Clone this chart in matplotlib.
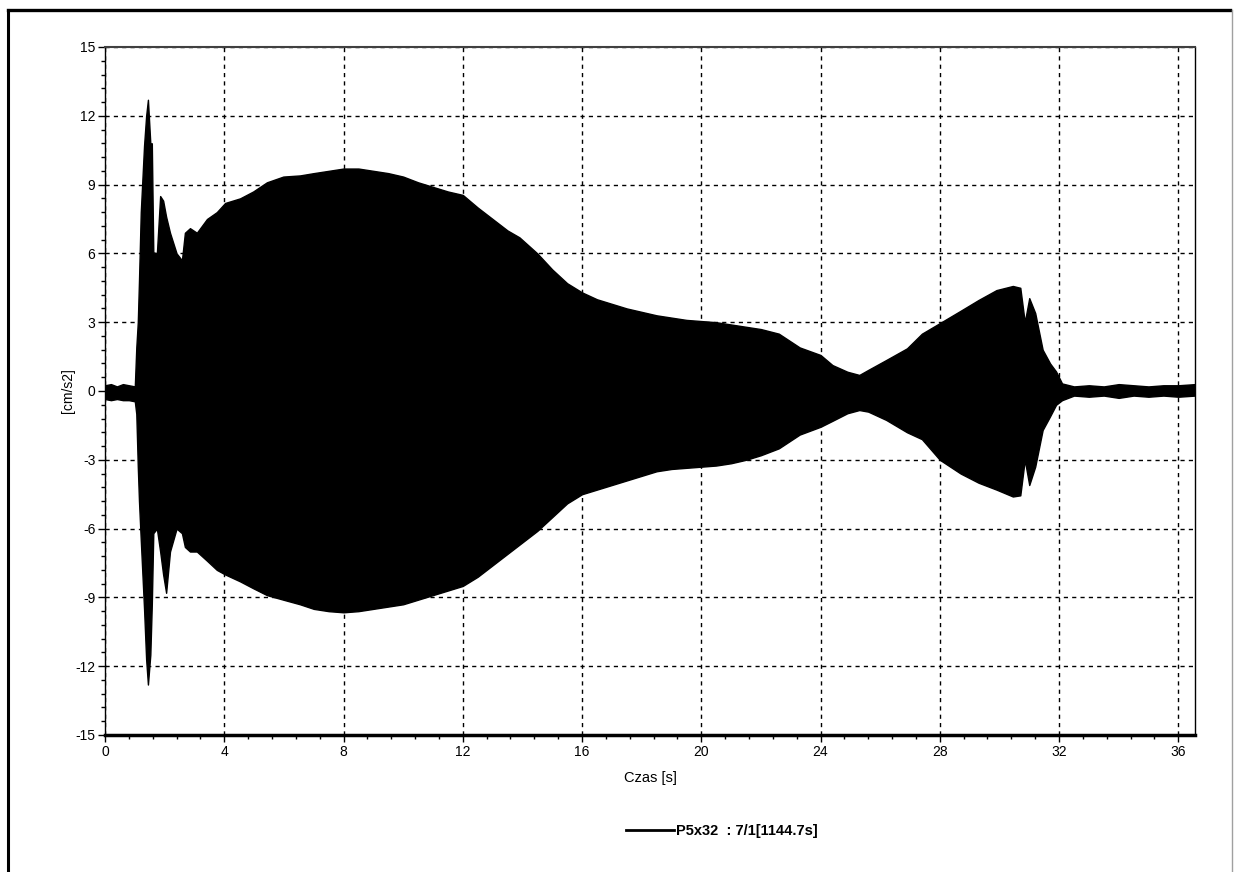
import matplotlib
matplotlib.use("Agg")
import matplotlib.pyplot as plt
from matplotlib.lines import Line2D
from matplotlib.ticker import MultipleLocator

plt.rcParams["axes.unicode_minus"] = False

# ---- data: envelope of the acceleration record ----
time_s = [0.0, 0.2, 0.4, 0.6, 0.8, 1.0, 1.05, 1.1, 1.14, 1.2, 1.31, 1.38, 1.44,
          1.52, 1.57, 1.62, 1.74, 1.85, 1.95, 2.05, 2.18, 2.4, 2.58, 2.68, 2.85,
          3.08, 3.42, 3.75, 4.03, 4.53, 4.97, 5.43, 5.98, 6.54, 7.0, 7.5, 8.0,
          8.5, 9.0, 9.5, 10.0, 10.5, 11.0, 11.5, 12.0, 12.5, 13.0, 13.5, 13.9,
          14.5, 15.0, 15.5, 16.0, 16.5, 17.0, 17.5, 18.0, 18.5, 19.0, 19.5, 20.0,
          20.5, 21.0, 21.5, 22.0, 22.6, 23.3, 24.0, 24.4, 24.9, 25.3, 25.6, 26.2,
          26.9, 27.4, 28.0, 28.7, 29.3, 29.9, 30.45, 30.7, 30.85, 31.0, 31.2,
          31.45, 31.7, 31.9, 32.1, 32.5, 33.0, 33.5, 34.0, 34.5, 35.0, 35.5, 36.0,
          36.56]
upper_cm_s2 = [0.25, 0.3, 0.2, 0.3, 0.25, 0.2, 1.9, 3.0, 4.8, 7.8, 10.7, 12.0, 12.7,
               10.8, 10.8, 6.05, 6.0, 8.5, 8.3, 7.6, 6.9, 6.0, 5.7, 6.9, 7.1,
               6.9, 7.5, 7.8, 8.2, 8.4, 8.7, 9.1, 9.35, 9.4, 9.5, 9.6, 9.7,
               9.7, 9.6, 9.5, 9.35, 9.1, 8.9, 8.7, 8.55, 8.0, 7.5, 7.0, 6.7,
               6.0, 5.3, 4.7, 4.3, 4.0, 3.8, 3.6, 3.45, 3.3, 3.2, 3.1, 3.05,
               3.0, 2.9, 2.8, 2.7, 2.5, 1.9, 1.57, 1.13, 0.84, 0.7, 0.92, 1.35,
               1.86, 2.5, 2.96, 3.5, 3.97, 4.4, 4.58, 4.5, 3.0, 4.05, 3.4,
               1.8, 1.2, 0.85, 0.33, 0.2, 0.25, 0.2, 0.3, 0.25, 0.2, 0.25, 0.25,
               0.3]
lower_cm_s2 = [-0.35, -0.4, -0.35, -0.4, -0.4, -0.45, -1.0, -3.3, -4.8, -6.5, -9.5, -11.7, -12.8,
               -11.5, -9.3, -6.2, -6.0, -7.0, -8.0, -8.8, -7.0, -6.0, -6.2, -6.8, -7.0,
               -7.0, -7.4, -7.8, -8.0, -8.3, -8.6, -8.9, -9.1, -9.3, -9.5, -9.6, -9.65,
               -9.6, -9.5, -9.4, -9.3, -9.1, -8.9, -8.7, -8.5, -8.1, -7.6, -7.1, -6.7,
               -6.1, -5.5, -4.9, -4.5, -4.3, -4.1, -3.9, -3.7, -3.5, -3.4, -3.35, -3.3,
               -3.25, -3.15, -3.0, -2.8, -2.5, -1.9, -1.56, -1.3, -0.97, -0.83, -0.9, -1.26,
               -1.8, -2.1, -3.0, -3.6, -4.0, -4.3, -4.6, -4.55, -3.0, -4.1, -3.3,
               -1.7, -1.1, -0.6, -0.4, -0.2, -0.25, -0.2, -0.3, -0.2, -0.25, -0.2, -0.25,
               -0.2]

x_label = "Czas [s]"
y_label = "[cm/s2]"
legend_label = "P5x32  : 7/1[1144.7s]"

# ---- figure ----
W, H = 1236, 872
fig = plt.figure(figsize=(W / 100, H / 100), dpi=100)
fig.patch.set_facecolor("white")

# outer frame
fig.add_artist(Line2D([8 / W, 8 / W], [0, 1 - 10 / H], color="black", lw=2.2,
                      transform=fig.transFigure))
fig.add_artist(Line2D([8 / W, 1230 / W], [1 - 10 / H, 1 - 10 / H], color="black", lw=2.4,
                      transform=fig.transFigure))
fig.add_artist(Line2D([1232 / W, 1232 / W], [0, 1 - 10 / H], color="#a0a0a0", lw=1.0,
                      transform=fig.transFigure))

left, right, top, bottom = 105, 1195, 47, 735
ax = fig.add_axes([left / W, 1 - bottom / H, (right - left) / W, (bottom - top) / H])
ax.set_facecolor("white")

ax.fill_between(time_s, lower_cm_s2, upper_cm_s2, color="black", lw=1.0,
                edgecolor="black", zorder=3, label=legend_label)

ax.set_xlim(0, 36.56)
ax.set_ylim(-15, 15)
ax.xaxis.set_major_locator(MultipleLocator(4))
ax.xaxis.set_minor_locator(MultipleLocator(0.8))
ax.yaxis.set_major_locator(MultipleLocator(3))
ax.yaxis.set_minor_locator(MultipleLocator(0.6))

ax.grid(True, which="major", color="black", lw=1.0, linestyle=(0, (3, 3)), zorder=1)

fam = ["Liberation Sans Narrow", "Liberation Sans", "DejaVu Sans"]
ax.tick_params(which="major", direction="out", length=5, width=1, colors="black",
               labelsize=10, pad=2)
ax.tick_params(which="minor", direction="out", length=3, width=1, colors="black")
for lab in ax.get_xticklabels() + ax.get_yticklabels():
    lab.set_fontfamily(fam)

for s in ["left", "right", "top"]:
    ax.spines[s].set_linewidth(1.0)
    ax.spines[s].set_color("black")
ax.spines["top"].set_linewidth(1.5)
ax.spines["top"].set_color("#404040")
ax.spines["bottom"].set_linewidth(2.5)
ax.spines["bottom"].set_zorder(5)

ax.set_xlabel(x_label, fontsize=10.5, family=fam, labelpad=9)
ax.set_ylabel(y_label, fontsize=10, family=fam, labelpad=0)

leg = fig.legend(handles=[Line2D([], [], color="black", lw=2)], labels=[legend_label],
                 loc="center", bbox_to_anchor=(722 / W, 1 - 831 / H), frameon=False,
                 handlelength=3.3, handletextpad=0.1,
                 prop={"family": fam, "weight": "bold", "size": 10.5})

fig.savefig("out.png", dpi=100, facecolor="white")
